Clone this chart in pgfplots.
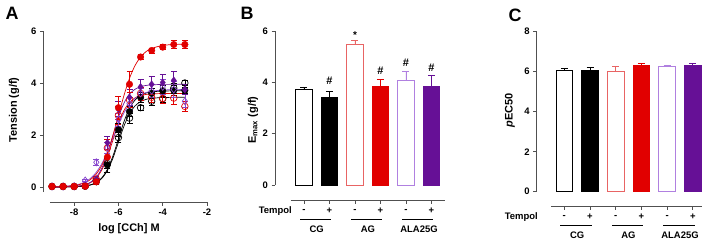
\documentclass[border=0pt]{standalone}
\usepackage{fontspec}
\setmainfont{Liberation Sans}
\usepackage{pgfplots}
\pgfplotsset{compat=1.18}
\definecolor{myred}{RGB}{225,0,0}
\definecolor{lightred}{RGB}{232,100,100}
\definecolor{mypurple}{RGB}{102,16,150}
\definecolor{midpurple}{RGB}{135,70,205}
\definecolor{lightpurple}{RGB}{176,128,224}
\definecolor{axisgray}{RGB}{80,80,80}
\pgfplotsset{
 prism/.style={scale only axis, anchor=south west, separate axis lines,
   axis x line*=bottom, axis y line*=left, tick align=outside,
   major tick length=3.5bp, clip=false,
   axis line style={axisgray, line width=0.9bp},
   every tick/.style={axisgray, line width=0.9bp},
   tick label style={font=\bfseries\fontsize{9.5}{10}\selectfont},
   /pgf/number format/assume math mode=true},
 ebar/.style={error bars/.cd, y dir=both, y explicit,
   error bar style={line width=0.7bp, #1},
   error mark options={rotate=90, mark size=3bp, line width=0.7bp, #1}},
 bebar/.style={error bars/.cd, y dir=plus, y explicit,
   error bar style={line width=0.8bp, #1},
   error mark options={rotate=90, mark size=3.5bp, line width=0.8bp, #1}},
}
\begin{document}
\begin{tikzpicture}
\useasboundingbox (0,0) rectangle (708bp,241bp);
% ---------------- Panel A ----------------
\begin{axis}[prism, at={(49.8bp,48.8bp)}, width=157.2bp, height=161.2bp,
  xmin=-9.1, xmax=-2, ymin=-0.2, ymax=6,
  axis x line shift=9.8bp, axis y line shift=6.5bp,
  xtick={-8,-6,-4,-2}, ytick={0,2,4,6}]
% fitted curves
\addplot[black, line width=0.7bp, smooth, no marks] coordinates {(-9,0.0005)(-8.5,0.002)(-8,0.009)(-7.75,0.020)(-7.5,0.041)(-7.25,0.085)(-7,0.176)(-6.75,0.354)(-6.5,0.677)(-6.25,1.188)(-6,1.85)(-5.75,2.512)(-5.5,3.023)(-5.25,3.345)(-5,3.522)(-4.75,3.615)(-4.5,3.659)(-4,3.691)(-3.5,3.698)(-3,3.7)};
\addplot[black, line width=0.7bp, smooth, no marks] coordinates {(-9,0.0004)(-8.5,0.002)(-8,0.009)(-7.75,0.018)(-7.5,0.038)(-7.25,0.080)(-7,0.165)(-6.75,0.331)(-6.5,0.631)(-6.25,1.107)(-6,1.725)(-5.75,2.343)(-5.5,2.819)(-5.25,3.119)(-5,3.284)(-4.75,3.371)(-4.5,3.412)(-4,3.441)(-3.5,3.448)(-3,3.45)};
\addplot[myred, line width=0.7bp, smooth, no marks] coordinates {(-9,0.001)(-8.5,0.004)(-8,0.019)(-7.75,0.040)(-7.5,0.083)(-7.25,0.172)(-7,0.345)(-6.75,0.659)(-6.5,1.156)(-6.25,1.8)(-6,2.444)(-5.75,2.941)(-5.5,3.254)(-5.25,3.427)(-5,3.517)(-4.75,3.560)(-4.5,3.581)(-4,3.596)(-3.5,3.599)(-3,3.6)};
\addplot[midpurple, line width=0.7bp, smooth, no marks] coordinates {(-9,0.007)(-8.5,0.021)(-8,0.066)(-7.75,0.115)(-7.5,0.2)(-7.25,0.341)(-7,0.566)(-6.75,0.9)(-6.5,1.35)(-6.25,1.875)(-6,2.4)(-5.75,2.85)(-5.5,3.184)(-5.25,3.409)(-5,3.551)(-4.75,3.634)(-4.5,3.685)(-4,3.729)(-3.5,3.743)(-3,3.748)};
\addplot[mypurple, line width=0.7bp, smooth, no marks] coordinates {(-9,0.001)(-8.5,0.005)(-8,0.021)(-7.75,0.044)(-7.5,0.091)(-7.25,0.188)(-7,0.378)(-6.75,0.723)(-6.5,1.268)(-6.25,1.975)(-6,2.682)(-5.75,3.227)(-5.5,3.571)(-5.25,3.760)(-5,3.859)(-4.75,3.907)(-4.5,3.929)(-4,3.945)(-3.5,3.949)(-3,3.95)};
\addplot[myred, line width=0.7bp, smooth, no marks] coordinates {(-9,0.0055)(-8.5,0.0176)(-8,0.054)(-7.75,0.096)(-7.5,0.169)(-7.25,0.293)(-7,0.5)(-6.75,0.83)(-6.5,1.32)(-6.25,1.98)(-6,2.75)(-5.75,3.52)(-5.5,4.18)(-5.25,4.67)(-5,5.0)(-4.75,5.21)(-4.5,5.33)(-4,5.445)(-3.5,5.48)(-3,5.495)};
% data points
\addplot[only marks, mark=o, mark size=3.3bp, mark options={black, fill=white, line width=0.7bp}, ebar={black}] coordinates {
 (-9,0.02)+-(0,0.02) (-8.5,0.02)+-(0,0.02) (-8,0.02)+-(0,0.02) (-7.5,0.03)+-(0,0.03) (-7,0.25)+-(0,0.1) (-6.5,0.9)+-(0,0.2) (-6,1.9)+-(0,0.2) (-5.5,2.65)+-(0,0.2) (-5,3.05)+-(0,0.1) (-4.5,3.3)+-(0,0.15) (-4,3.4)+-(0,0.15) (-3.5,3.8)+-(0,0.2) (-3,4.0)+-(0,0.1)};
\addplot[only marks, mark=*, mark size=3.3bp, mark options={black, fill=black}, ebar={black}] coordinates {
 (-9,0.02)+-(0,0.02) (-8.5,0.02)+-(0,0.02) (-8,0.02)+-(0,0.02) (-7.5,0.03)+-(0,0.03) (-7,0.2)+-(0,0.1) (-6.5,0.85)+-(0,0.3) (-6,2.2)+-(0,0.25) (-5.5,2.9)+-(0,0.2) (-5,3.45)+-(0,0.2) (-4.5,3.6)+-(0,0.2) (-4,3.7)+-(0,0.2) (-3.5,3.72)+-(0,0.2) (-3,3.72)+-(0,0.1)};
\addplot[only marks, mark=o, mark size=3.3bp, mark options={myred, fill=white, line width=0.7bp}, ebar={myred}] coordinates {
 (-9,0.02)+-(0,0.02) (-8.5,0.02)+-(0,0.02) (-8,0.02)+-(0,0.02) (-7.5,0.05)+-(0,0.03) (-7,0.3)+-(0,0.1) (-6.5,1.5)+-(0,0.35) (-6,2.75)+-(0,0.35) (-5.5,3.35)+-(0,0.3) (-5,3.6)+-(0,0.25) (-4.5,3.45)+-(0,0.2) (-4,3.4)+-(0,0.2) (-3.5,3.42)+-(0,0.25) (-3,3.1)+-(0,0.2)};
\addplot[only marks, mark=diamond, mark size=3.5bp, mark options={midpurple, fill=white, line width=0.7bp}, ebar={midpurple}] coordinates {
 (-9,0.02)+-(0,0.02) (-8.5,0.02)+-(0,0.02) (-8,0.03)+-(0,0.02) (-7.5,0.25)+-(0,0.05) (-7,0.95)+-(0,0.1) (-6.5,1.5)+-(0,0.2) (-6,2.6)+-(0,0.25) (-5.5,3.2)+-(0,0.25) (-5,3.6)+-(0,0.2) (-4.5,3.7)+-(0,0.25) (-4,3.85)+-(0,0.3) (-3.5,3.75)+-(0,0.3) (-3,3.3)+-(0,0.25)};
\addplot[only marks, mark=diamond*, mark size=3.5bp, mark options={mypurple, fill=mypurple}, ebar={mypurple}] coordinates {
 (-9,0.02)+-(0,0.02) (-8.5,0.02)+-(0,0.02) (-8,0.02)+-(0,0.02) (-7.5,0.05)+-(0,0.03) (-7,0.3)+-(0,0.1) (-6.5,1.7)+-(0,0.25) (-6,3.0)+-(0,0.3) (-5.5,3.45)+-(0,0.3) (-5,3.85)+-(0,0.3) (-4.5,3.95)+-(0,0.3) (-4,4.02)+-(0,0.3) (-3.5,4.1)+-(0,0.35) (-3,3.75)+-(0,0.2)};
\addplot[only marks, mark=*, mark size=3.3bp, mark options={myred, fill=myred}, ebar={myred}] coordinates {
 (-9,0.02)+-(0,0.02) (-8.5,0.02)+-(0,0.02) (-8,0.02)+-(0,0.02) (-7.5,0.03)+-(0,0.03) (-7,0.2)+-(0,0.1) (-6.5,1.15)+-(0,0.3) (-6,3.05)+-(0,0.45) (-5.5,3.95)+-(0,0.5) (-5,5.0)+-(0,0.1) (-4.5,5.25)+-(0,0.1) (-4,5.38)+-(0,0.1) (-3.5,5.48)+-(0,0.15) (-3,5.48)+-(0,0.15)};
\end{axis}
% ---------------- Panel B ----------------
\begin{axis}[prism, at={(290.7bp,56bp)}, width=154.3bp, height=154bp,
  xmin=0.48, xmax=6.53, ymin=0, ymax=6,
  axis x line shift=15bp, axis y line shift=15.7bp,
  xtick={1,2,3,4,5,6}, xticklabels={}, ytick={0,2,4,6}]
\addplot[ybar, bar width=16.5bp, bar shift=0pt, draw=black, fill=white, line width=0.8bp, bebar={black}] coordinates {(1,3.71)+-(0,0.11)};
\addplot[ybar, bar width=16.5bp, bar shift=0pt, draw=black, fill=black, line width=0.8bp, bebar={black}] coordinates {(2,3.41)+-(0,0.24)};
\addplot[ybar, bar width=16.5bp, bar shift=0pt, draw=lightred, fill=white, line width=0.8bp, bebar={lightred}] coordinates {(3,5.48)+-(0,0.14)};
\addplot[ybar, bar width=16.5bp, bar shift=0pt, draw=myred, fill=myred, line width=0.8bp, bebar={myred}] coordinates {(4,3.85)+-(0,0.28)};
\addplot[ybar, bar width=16.5bp, bar shift=0pt, draw=lightpurple, fill=white, line width=0.8bp, bebar={lightpurple}] coordinates {(5,4.09)+-(0,0.35)};
\addplot[ybar, bar width=16.5bp, bar shift=0pt, draw=mypurple, fill=mypurple, line width=0.8bp, bebar={mypurple}] coordinates {(6,3.85)+-(0,0.41)};
\node[font=\bfseries\fontsize{10}{11}\selectfont] at (axis cs:3,5.85) {*};
\node[font=\bfseries\fontsize{11}{12}\selectfont] at (axis cs:2,4.08) {\#};
\node[font=\bfseries\fontsize{11}{12}\selectfont] at (axis cs:4,4.45) {\#};
\node[font=\bfseries\fontsize{11}{12}\selectfont] at (axis cs:5,4.75) {\#};
\node[font=\bfseries\fontsize{11}{12}\selectfont] at (axis cs:6,4.58) {\#};
\end{axis}
% ---------------- Panel C ----------------
\begin{axis}[prism, at={(551bp,49.3bp)}, width=150.7bp, height=160bp,
  xmin=0.48, xmax=6.35, ymin=0, ymax=8,
  axis x line shift=14.3bp, axis y line shift=14.3bp,
  xtick={1,2,3,4,5,6}, xticklabels={}, ytick={0,2,4,6,8}]
\addplot[ybar, bar width=16.7bp, bar shift=0pt, draw=black, fill=white, line width=0.8bp, bebar={black}] coordinates {(1,6.05)+-(0,0.11)};
\addplot[ybar, bar width=16.7bp, bar shift=0pt, draw=black, fill=black, line width=0.8bp, bebar={black}] coordinates {(2,6.08)+-(0,0.13)};
\addplot[ybar, bar width=16.7bp, bar shift=0pt, draw=lightred, fill=white, line width=0.8bp, bebar={lightred}] coordinates {(3,6.03)+-(0,0.22)};
\addplot[ybar, bar width=16.7bp, bar shift=0pt, draw=myred, fill=myred, line width=0.8bp, bebar={myred}] coordinates {(4,6.3)+-(0,0.12)};
\addplot[ybar, bar width=16.7bp, bar shift=0pt, draw=lightpurple, fill=white, line width=0.8bp, bebar={lightpurple}] coordinates {(5,6.27)+-(0,0.06)};
\addplot[ybar, bar width=16.7bp, bar shift=0pt, draw=mypurple, fill=mypurple, line width=0.8bp, bebar={mypurple}] coordinates {(6,6.3)+-(0,0.13)};
\end{axis}
% ---------------- text ----------------
\begin{scope}[every node/.style={font=\bfseries\fontsize{9.5}{11}\selectfont, inner sep=0pt}]
% panel B sign row
\node[anchor=east] at (292bp,30bp) {Tempol};
\foreach \x/\s in {304/-,329.5/+,355/-,380.5/+,406/-,431.5/+} \node at (\x bp,30bp) {\s};
\foreach \a/\b/\c/\t in {300/331/316.7/CG,351/382/368/AG,402/433/419/ALA25G}{
  \draw[line width=0.8bp] (\a bp,22bp) -- (\b bp,22bp);
  \node at (\c bp,12bp) {\t};}
% panel C sign row
\node[anchor=east] at (538bp,24bp) {Tempol};
\foreach \x/\s in {564.3/-,590/+,615.7/-,641.4/+,667.1/-,692.8/+} \node at (\x bp,24bp) {\s};
\foreach \a/\b/\c/\t in {560/592/577.2/CG,612/643/628.5/AG,663/695/680/ALA25G}{
  \draw[line width=0.8bp] (\a bp,16bp) -- (\b bp,16bp);
  \node at (\c bp,6bp) {\t};}
\end{scope}
% axis labels
\node[font=\bfseries\fontsize{11}{12}\selectfont, rotate=90] at (14bp,131bp) {Tension (g/f)};
\node[font=\bfseries\fontsize{11}{12}\selectfont] at (129bp,12bp) {log [CCh] M};
\node[font=\bfseries\fontsize{11}{12}\selectfont, rotate=90] at (253bp,121bp) {E\textsubscript{max} (g/f)};
\node[font=\bfseries\fontsize{11}{12}\selectfont, rotate=90] at (510bp,131bp) {\textit{p}EC50};
% panel letters
\node[font=\bfseries\fontsize{18}{20}\selectfont] at (12bp,228bp) {A};
\node[font=\bfseries\fontsize{18}{20}\selectfont] at (247bp,228bp) {B};
\node[font=\bfseries\fontsize{18}{20}\selectfont] at (515bp,226bp) {C};
\end{tikzpicture}
\end{document}
